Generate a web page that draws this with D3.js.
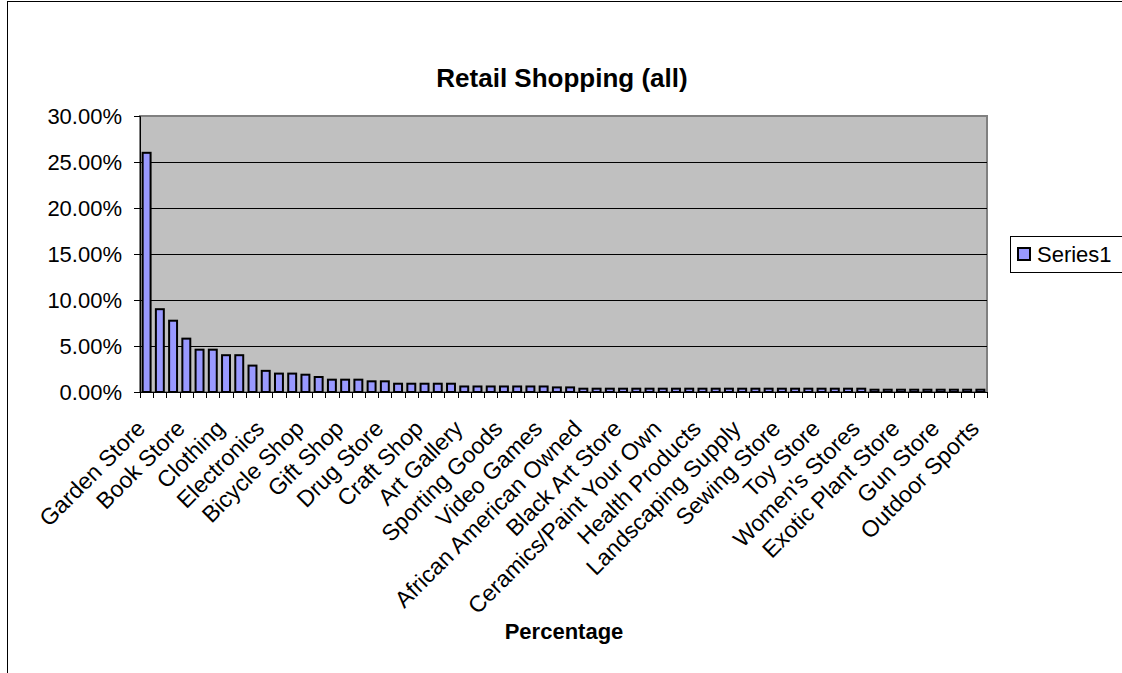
<!DOCTYPE html>
<html>
<head>
<meta charset="utf-8">
<script src="https://cdn.jsdelivr.net/npm/d3@7"></script>
<style>
  body { margin: 0; background: #fff; }
  text { font-family: "Liberation Sans", Arial, sans-serif; }
</style>
</head>
<body>
<svg id="chart" width="1122" height="673"></svg>
<script>
// only every third category name is printed on the axis, the rest are unreadable
const categories = [
  "Garden Store", "", "", "Book Store", "", "", "Clothing", "", "", "Electronics", "", "",
  "Bicycle Shop", "", "", "Gift Shop", "", "", "Drug Store", "", "", "Craft Shop", "", "",
  "Art Gallery", "", "", "Sporting Goods", "", "", "Video Games", "", "", "African American Owned", "", "",
  "Black Art Store", "", "", "Ceramics/Paint Your Own", "", "", "Health Products", "", "",
  "Landscaping Supply", "", "", "Sewing Store", "", "", "Toy Store", "", "", "Women's Stores", "", "",
  "Exotic Plant Store", "", "", "Gun Store", "", "", "Outdoor Sports"
];
const series1 = [
  26.0, 9.0, 7.75, 5.8, 4.6, 4.6, 4.0, 4.0, 2.87, 2.3, 2.0, 2.0,
  1.88, 1.63, 1.34, 1.34, 1.34, 1.16, 1.16, 0.9, 0.9, 0.9, 0.9, 0.9,
  0.6, 0.6, 0.6, 0.6, 0.6, 0.6, 0.6, 0.5, 0.5, 0.36, 0.36, 0.36,
  0.36, 0.36, 0.36, 0.36, 0.36, 0.36, 0.36, 0.36, 0.36, 0.36, 0.36, 0.36,
  0.36, 0.36, 0.36, 0.36, 0.36, 0.36, 0.36, 0.25, 0.25, 0.25, 0.25, 0.25,
  0.25, 0.25, 0.25, 0.25
];
const yTicks = [0, 5, 10, 15, 20, 25, 30];

const svg = d3.select("#chart");
const plot = { left: 140, top: 116, right: 987, bottom: 392 };

// outer chart frame (right and bottom edges fall outside the picture)
svg.append("rect")
  .attr("x", 7.5).attr("y", 1.5)
  .attr("width", 1130).attr("height", 700)
  .attr("fill", "#fff").attr("stroke", "#000").attr("stroke-width", 1);

const x = d3.scaleBand()
  .domain(d3.range(categories.length))
  .range([plot.left, plot.right])
  .paddingInner(0.4).paddingOuter(0.2);

const y = d3.scaleLinear().domain([0, 30]).range([plot.bottom, plot.top]);

// plot area
svg.append("rect")
  .attr("x", plot.left).attr("y", plot.top)
  .attr("width", plot.right - plot.left).attr("height", plot.bottom - plot.top)
  .attr("fill", "#c0c0c0").attr("stroke", "#808080").attr("stroke-width", 2);

// gridlines
svg.append("g")
  .selectAll("line")
  .data(yTicks.filter(d => d > 0 && d < 30))
  .join("line")
  .attr("x1", plot.left).attr("x2", plot.right)
  .attr("y1", d => Math.round(y(d)) + 0.5).attr("y2", d => Math.round(y(d)) + 0.5)
  .attr("stroke", "#000").attr("stroke-width", 1);

// bars
svg.append("g")
  .selectAll("rect")
  .data(series1)
  .join("rect")
  .attr("x", (d, i) => x(i))
  .attr("y", d => y(d))
  .attr("width", x.bandwidth())
  .attr("height", d => y(0) - y(d))
  .attr("fill", "#9999ff")
  .attr("stroke", "#000")
  .attr("stroke-width", 2);

// y axis
const yAxis = d3.axisLeft(y)
  .tickValues(yTicks)
  .tickSize(6)
  .tickFormat(d => d.toFixed(2) + "%");
const gy = svg.append("g")
  .attr("transform", `translate(${plot.left},0)`)
  .call(yAxis);
gy.select(".domain").attr("stroke", "#000");
gy.selectAll(".tick line").attr("stroke", "#000");
gy.selectAll(".tick text")
  .attr("x", -18)
  .attr("font-size", 22)
  .attr("font-family", "Liberation Sans, Arial, sans-serif")
  .attr("fill", "#000");

// x axis: ticks at category boundaries
const xTickPos = d3.range(categories.length + 1).map(i => plot.left + i * x.step());
svg.append("line")
  .attr("x1", plot.left).attr("x2", plot.right)
  .attr("y1", plot.bottom + 0.5).attr("y2", plot.bottom + 0.5)
  .attr("stroke", "#000");
svg.append("g")
  .selectAll("line")
  .data(xTickPos)
  .join("line")
  .attr("x1", d => Math.round(d) + 0.5).attr("x2", d => Math.round(d) + 0.5)
  .attr("y1", plot.bottom).attr("y2", plot.bottom + 6)
  .attr("stroke", "#000");

// category labels, rotated
svg.append("g")
  .selectAll("text")
  .data(categories.map((c, i) => ({ c, i })).filter(d => d.c !== ""))
  .join("text")
  .attr("transform", d => `translate(${x(d.i) + x.bandwidth() / 2},${plot.bottom + 38}) rotate(-45)`)
  .attr("text-anchor", "end")
  .attr("font-size", 23)
  .text(d => d.c);

// title
svg.append("text")
  .attr("x", 562).attr("y", 87)
  .attr("text-anchor", "middle")
  .attr("font-size", 26).attr("font-weight", "bold")
  .text("Retail Shopping (all)");

// axis title
svg.append("text")
  .attr("x", 564).attr("y", 639)
  .attr("text-anchor", "middle")
  .attr("font-size", 22).attr("font-weight", "bold")
  .text("Percentage");

// legend
const lg = svg.append("g").attr("transform", "translate(1010,236)");
lg.append("rect")
  .attr("x", 0.5).attr("y", 0.5).attr("width", 115).attr("height", 36)
  .attr("fill", "#fff").attr("stroke", "#000");
lg.append("rect")
  .attr("x", 8).attr("y", 12).attr("width", 12).attr("height", 12)
  .attr("fill", "#9999ff").attr("stroke", "#000").attr("stroke-width", 2);
lg.append("text")
  .attr("x", 27).attr("y", 26)
  .attr("font-size", 22)
  .text("Series1");
</script>
</body>
</html>
